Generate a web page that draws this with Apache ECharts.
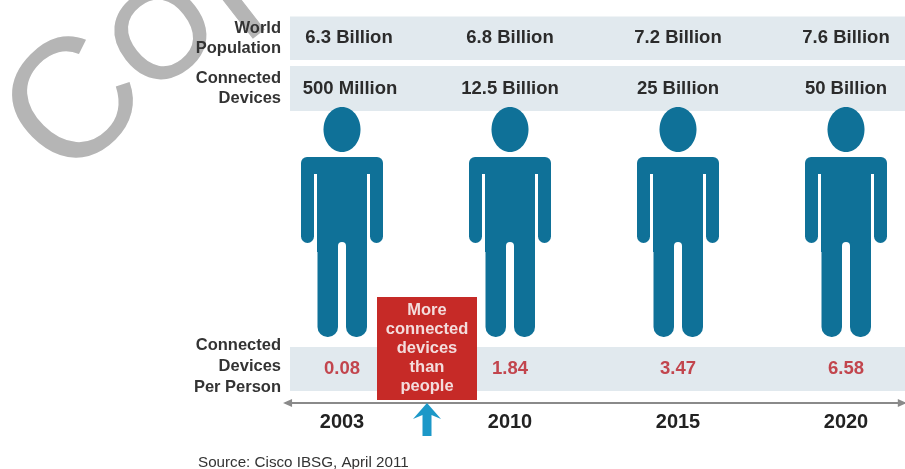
<!DOCTYPE html>
<html>
<head>
<meta charset="utf-8">
<style>html,body{margin:0;padding:0;background:#fff}#chart{width:905px;height:469px}</style>
<script src="https://cdn.jsdelivr.net/npm/echarts@6/dist/echarts.min.js"></script>
</head>
<body>
<div id="chart"></div>
<script>
// Timeline columns
var years = ['2003', '2010', '2015', '2020'];
var worldPopulation = ['6.3 Billion', '6.8 Billion', '7.2 Billion', '7.6 Billion'];
var connectedDevices = ['500 Million', '12.5 Billion', '25 Billion', '50 Billion'];
var devicesPerPerson = ['0.08', '1.84', '3.47', '6.58'];
var columnIndex = [0, 1, 2, 3];
// Crossover point: between the 2003 and 2010 columns
var crossover = [0.5];
var crossoverLines = ['More', 'connected', 'devices', 'than', 'people'];

var FONT = '"Liberation Sans", Arial, sans-serif';
var TEAL = '#0f7198', RED = '#c62a27', BAND = '#e1e9ee', INK = '#2b2b2b', GREY = '#8a8a8a', STAMP = '#b5b5b5';

function band(y, h) {
  return { type: 'rect', shape: { x: 290, y: y, width: 615, height: h }, style: { fill: BAND } };
}
function rowLabel(text, y) {
  return {
    type: 'text', x: 281, y: y,
    style: { text: text, font: 'bold 16.5px ' + FONT, fill: '#333', align: 'right', verticalAlign: 'middle' }
  };
}

// One letter of the grey stamp, centred on (cx, cy) and turned by deg
function stampLetter(ch, cx, cy, size, deg, thicken) {
  var r = deg * Math.PI / 180;
  var lift = 0.077 * size;
  return {
    type: 'text', x: cx + lift * Math.sin(r), y: cy + lift * Math.cos(r), rotation: r, silent: true,
    style: {
      text: ch, font: size + 'px ' + FONT, fill: STAMP, align: 'center', verticalAlign: 'middle',
      stroke: STAMP, lineWidth: thicken
    }
  };
}

// Small helper for the custom series: rectangle centred on a column
function box(cx, x0, x1, y0, y1, r, fill) {
  return { type: 'rect', shape: { x: cx + x0, y: y0, width: x1 - x0, height: y1 - y0, r: r }, style: { fill: fill } };
}

function renderPerson(params, api) {
  var cx = api.coord([api.value(0), 0])[0];
  return {
    type: 'group',
    children: [
      { type: 'ellipse', shape: { cx: cx, cy: 129.5, rx: 18.5, ry: 22.5 }, style: { fill: TEAL } },
      box(cx, -41, 41, 157, 174, [6, 6, 0, 0], TEAL),
      box(cx, -41, -28, 168, 243, [0, 0, 6.5, 6.5], TEAL),
      box(cx, 28, 41, 168, 243, [0, 0, 6.5, 6.5], TEAL),
      box(cx, -25, 25, 168, 252, 0, TEAL),
      box(cx, -24.5, -4, 242, 337, [3, 3, 10, 10], TEAL),
      box(cx, 4, 25, 242, 337, [3, 3, 10, 10], TEAL),
      box(cx, -4, 4, 242, 252, [4, 4, 0, 0], '#fff')
    ]
  };
}

function textSeries(values, y, font, fill, firstNudge) {
  return {
    type: 'custom',
    coordinateSystem: 'cartesian2d',
    data: columnIndex,
    z: 4,
    encode: { x: 0 },
    renderItem: function (params, api) {
      var i = api.value(0);
      var cx = api.coord([i, 0])[0] + (i === 0 ? firstNudge : 0);
      return {
        type: 'text', x: cx, y: y,
        style: { text: values[i], font: font, fill: fill, align: 'center', verticalAlign: 'middle' }
      };
    }
  };
}

var option = {
  animation: false,
  backgroundColor: '#fff',
  grid: { left: 342, right: 59, top: 0, height: 403, containLabel: false },
  xAxis: {
    type: 'value', min: 0, max: 3, interval: 1,
    splitLine: { show: false },
    axisLine: { show: false },
    axisTick: { show: true, inside: true, length: 7, lineStyle: { color: GREY, width: 2 } },
    axisLabel: {
      margin: 9, color: '#222', fontFamily: FONT, fontWeight: 'bold', fontSize: 20,
      formatter: function (v) { return years[v]; }
    }
  },
  yAxis: { type: 'value', min: 0, max: 403, inverse: true, show: false },
  graphic: [
    // Grey stamp across the top-left corner
    stampLetter('C', 69, 99, 170, 45, 0),
    stampLetter('O', 160, 32, 125, 38, 2.5),
    stampLetter('P', 250, -27, 150, 38, 1),
    band(16.5, 43.5), band(66, 45), band(347, 44),
    rowLabel('World', 28), rowLabel('Population', 48),
    rowLabel('Connected', 78), rowLabel('Devices', 98),
    rowLabel('Connected', 345), rowLabel('Devices', 366), rowLabel('Per Person', 387),
    {
      type: 'text', x: 198, y: 463,
      style: { text: 'Source: Cisco IBSG, April 2011', font: '15.2px ' + FONT, fill: '#333', align: 'left', verticalAlign: 'middle' }
    }
  ],
  series: [
    {
      type: 'custom', data: columnIndex, encode: { x: 0 }, z: 2,
      renderItem: renderPerson
    },
    textSeries(worldPopulation, 38, 'bold 18.5px ' + FONT, INK, 7),
    textSeries(connectedDevices, 89, 'bold 18.5px ' + FONT, INK, 8),
    textSeries(devicesPerPerson, 369, 'bold 18.5px ' + FONT, '#c2454d', 0),
    {
      // Timeline rule with arrowheads at both ends, extending past the first and last year
      type: 'custom', data: [[-0.339, 3.35]], encode: { x: [0, 1] }, z: 3,
      renderItem: function (params, api) {
        var a = api.coord([api.value(0), 403]);
        var b = api.coord([api.value(1), 403]);
        var y = a[1];
        return {
          type: 'group',
          children: [
            { type: 'line', shape: { x1: a[0], y1: y, x2: b[0], y2: y }, style: { stroke: GREY, lineWidth: 2 } },
            { type: 'polygon', shape: { points: [[a[0] - 2, y], [a[0] + 7, y - 4], [a[0] + 7, y + 4]] }, style: { fill: GREY } },
            { type: 'polygon', shape: { points: [[b[0] + 2, y], [b[0] - 7, y - 4], [b[0] - 7, y + 4]] }, style: { fill: GREY } }
          ]
        };
      }
    },
    {
      // Red callout and blue arrow marking the crossover
      type: 'custom', data: crossover, encode: { x: 0 }, z: 5,
      renderItem: function (params, api) {
        var cx = api.coord([api.value(0), 0])[0] + 1;
        var children = [
          { type: 'rect', shape: { x: cx - 50, y: 297, width: 100, height: 103 }, style: { fill: RED } },
          {
            type: 'polygon',
            shape: {
              points: [[cx, 403], [cx + 14, 419], [cx + 4.5, 415], [cx + 4.5, 436], [cx - 4.5, 436], [cx - 4.5, 415], [cx - 14, 419]]
            },
            style: { fill: '#1c98c8' }
          }
        ];
        crossoverLines.forEach(function (line, i) {
          children.push({
            type: 'text', x: cx, y: 310 + i * 19,
            style: { text: line, font: 'bold 16.5px ' + FONT, fill: '#f3dcdc', align: 'center', verticalAlign: 'middle' }
          });
        });
        return { type: 'group', children: children };
      }
    }
  ]
};

echarts.init(document.getElementById('chart'), null, { renderer: 'canvas' }).setOption(option);
</script>
</body>
</html>
